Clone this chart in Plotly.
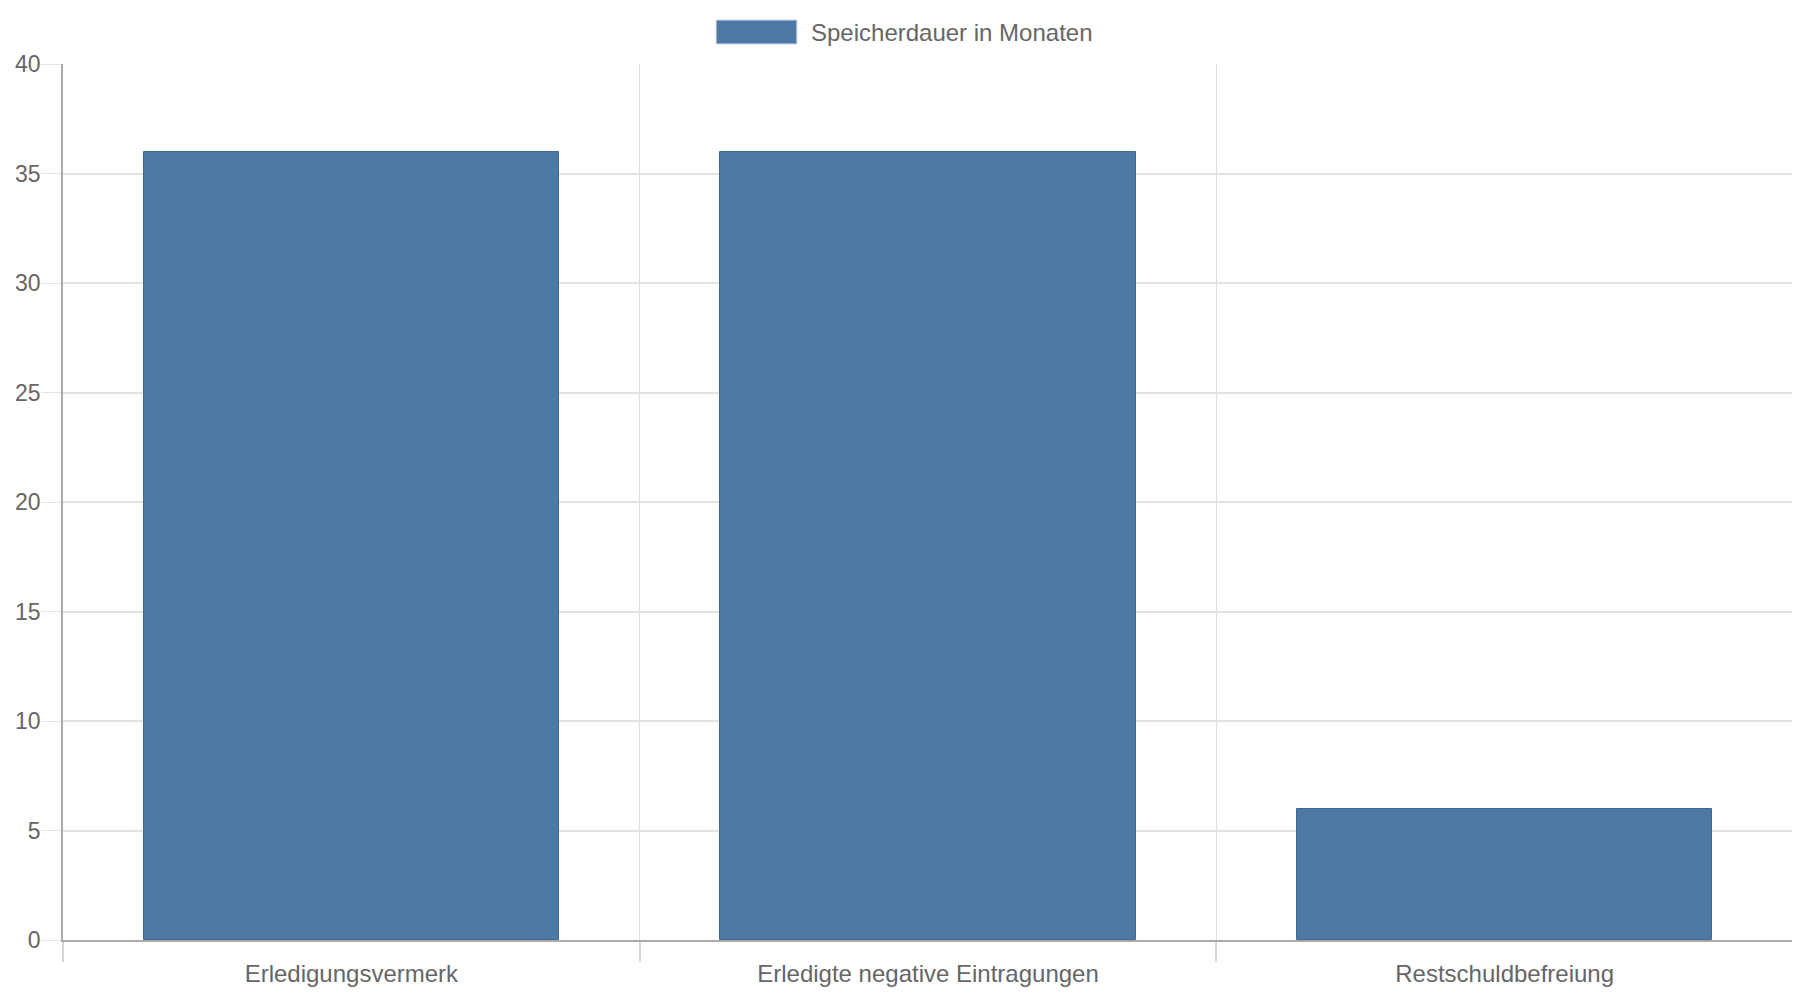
###########
# IMPORTS #
###########
import plotly.graph_objects as go

########
# DATA #
########
categories = ["Erledigungsvermerk", "Erledigte negative Eintragungen", "Restschuldbefreiung"]
months = [36, 36, 6]
series_name = "Speicherdauer in Monaten"
y_ticks = [0, 5, 10, 15, 20, 25, 30, 35, 40]

#########
# CHART #
#########
positions = list(range(len(categories)))

fig = go.Figure()

# Bars (chart.js style: 0.8 category * 0.9 bar = 0.72)
fig.add_trace(go.Bar(
    x=positions,
    y=months,
    width=0.72,
    name=series_name,
    marker=dict(color="#4e79a7", line=dict(color="#41688f", width=1)),
    showlegend=False,
))

# Legend drawn as a wide box plus label, like the original
fig.add_shape(
    type="rect", xref="paper", yref="paper",
    x0=(713 - 58) / 1735, x1=(794 - 58) / 1735,
    y0=1 + (64 - 44) / 876, y1=1 + (64 - 20) / 876,
    fillcolor="#4e79a7", line=dict(color="#d0d8e2", width=1),
)
fig.add_annotation(
    text=series_name, xref="paper", yref="paper",
    x=(806 - 58) / 1735, y=1 + (64 - 32) / 876,
    xanchor="left", yanchor="middle", showarrow=False,
    font=dict(size=24, color="#666666"),
)

# Axes
fig.update_layout(
    xaxis=dict(
        range=[-0.5, len(categories) - 0.5],
        tickmode="array",
        tickvals=positions,
        ticktext=categories,
        ticks="outside",
        ticklen=11,
        tickcolor="rgba(0,0,0,0)",
        showgrid=False,
        zeroline=False,
        showline=True,
        linecolor="#aaaaaa",
        linewidth=1.5,
        tickfont=dict(size=24, color="#666666"),
        minor=dict(
            tickmode="linear", tick0=-0.5, dtick=1,
            ticks="outside", ticklen=20, tickcolor="#d4d4d4", tickwidth=1.5,
            showgrid=True, gridcolor="#dddddd", gridwidth=1,
        ),
    ),
    yaxis=dict(
        range=[0, 40],
        tickmode="array",
        tickvals=y_ticks,
        ticks="outside",
        ticklen=20,
        tickcolor="#e3e3e3",
        ticklabelstandoff=-4,
        showgrid=True,
        gridcolor="#e3e3e3",
        gridwidth=1.5,
        zeroline=False,
        showline=True,
        linecolor="#aaaaaa",
        linewidth=1.5,
        tickfont=dict(size=23, color="#666666"),
    ),
)

# Page size, margins and background
# (the page body adds 8px around the figure, so shrink by that amount)
fig.update_layout(
    width=1792,
    height=992,
    margin=dict(l=50, r=7, t=56, b=60),
    plot_bgcolor="white",
    paper_bgcolor="white",
    font=dict(family="Liberation Sans, Arial, sans-serif", color="#666666"),
    bargap=0,
)

fig.write_html("out.html")
